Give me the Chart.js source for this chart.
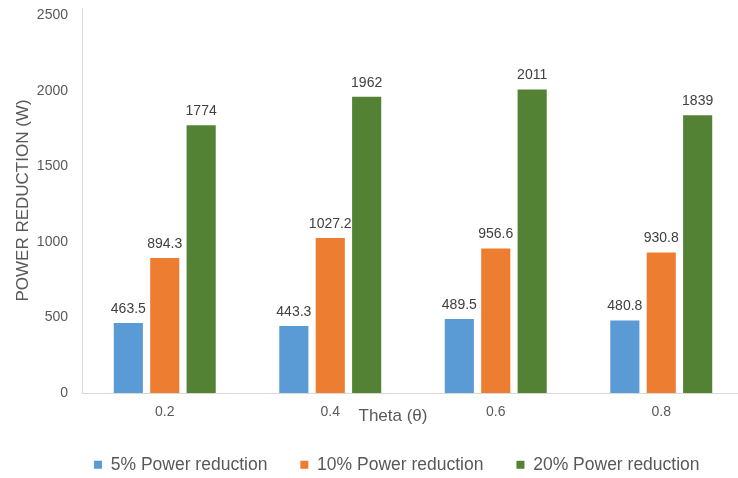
<!DOCTYPE html>
<html>
<head>
<meta charset="utf-8">
<script src="https://cdn.jsdelivr.net/npm/chart.js@4/dist/chart.umd.min.js"></script>
<style>
  html, body { margin: 0; padding: 0; background: #ffffff; overflow: hidden; }
  #wrap { width: 744px; height: 478px; }
</style>
</head>
<body>
<div id="wrap"><canvas id="chart" width="744" height="478"></canvas></div>
<script>
// Power reduction (W) for each theta value
const categories = ['0.2', '0.4', '0.6', '0.8'];
const power5 = [463.5, 443.3, 489.5, 480.8];
const power10 = [894.3, 1027.2, 956.6, 930.8];
const power20 = [1774, 1962, 2011, 1839];
const yTicks = [0, 500, 1000, 1500, 2000, 2500];

const FONT = "'Liberation Sans', Arial, sans-serif";
const GREY = '#595959';
const AXIS_LINE = '#d9d9d9';

// value labels above each bar
const barValueLabels = {
  id: 'barValueLabels',
  afterDatasetsDraw(chart) {
    const ctx = chart.ctx;
    ctx.save();
    ctx.font = '14px ' + FONT;
    ctx.fillStyle = '#404040';
    ctx.textAlign = 'center';
    ctx.textBaseline = 'middle';
    chart.getSortedVisibleDatasetMetas().forEach(meta => {
      const values = chart.data.datasets[meta.index].data;
      meta.data.forEach((bar, i) => {
        ctx.fillText(String(values[i]), bar.x, bar.y - 14);
      });
    });
    ctx.restore();
  }
};

// x-axis title sitting in the tick-label row, between 0.4 and 0.6
const xAxisTitle = {
  id: 'xAxisTitle',
  afterDraw(chart) {
    const xs = chart.scales.x;
    const ctx = chart.ctx;
    ctx.save();
    ctx.font = '17px ' + FONT;
    ctx.fillStyle = GREY;
    ctx.textAlign = 'center';
    ctx.textBaseline = 'middle';
    const cx = (xs.getPixelForValue(1) + xs.getPixelForValue(2)) / 2 - 20;
    ctx.fillText('Theta (\u03B8)', cx, xs.top + 23);
    ctx.restore();
  }
};

// place the legend row under the plot
const legendPlacement = {
  id: 'legendPlacement',
  afterLayout(chart) {
    const lg = chart.legend;
    if (!lg) return;
    const w = lg.width, h = lg.height;
    lg.left = 61; lg.right = 61 + w;
    lg.top = 423; lg.bottom = 423 + h;
  }
};

new Chart(document.getElementById('chart'), {
  type: 'bar',
  data: {
    labels: categories,
    datasets: [
      { label: '5% Power reduction', data: power5, backgroundColor: '#5b9bd5' },
      { label: '10% Power reduction', data: power10, backgroundColor: '#ed7d31' },
      { label: '20% Power reduction', data: power20, backgroundColor: '#548235' }
    ]
  },
  options: {
    responsive: false,
    animation: false,
    devicePixelRatio: 1,
    categoryPercentage: 0.66,
    barPercentage: 0.8,
    layout: { padding: { left: 0, right: 0, top: 8, bottom: -5.5 } },
    plugins: {
      tooltip: { enabled: false },
      legend: {
        position: 'bottom',
        align: 'start',
        labels: {
          boxWidth: 8,
          boxHeight: 8,
          padding: 33,
          color: GREY,
          font: { family: FONT, size: 17.5 }
        }
      }
    },
    scales: {
      x: {
        grid: { display: false, drawTicks: false },
        border: { display: true, color: AXIS_LINE, width: 1 },
        ticks: { color: GREY, padding: 11, font: { family: FONT, size: 14 } },
        afterFit(scale) {
          scale.height = 30;
          scale.paddingLeft = 0;
          scale.paddingRight = 0;
        }
      },
      y: {
        min: 0,
        max: 2550,
        grid: { display: false, drawTicks: false },
        border: { display: true, color: AXIS_LINE, width: 1 },
        ticks: {
          color: GREY,
          padding: 14,
          font: { family: FONT, size: 14 },
          callback: v => String(v)
        },
        afterBuildTicks(scale) { scale.ticks = yTicks.map(v => ({ value: v })); },
        title: {
          display: true,
          text: 'POWER REDUCTION (W)',
          color: GREY,
          font: { family: FONT, size: 17 },
          padding: { top: 13, bottom: 0 }
        },
        afterFit(scale) {
          scale.width = 82;
          scale.paddingTop = 0;
          scale.paddingBottom = 0;
        }
      }
    }
  },
  plugins: [barValueLabels, xAxisTitle, legendPlacement]
});
</script>
</body>
</html>
